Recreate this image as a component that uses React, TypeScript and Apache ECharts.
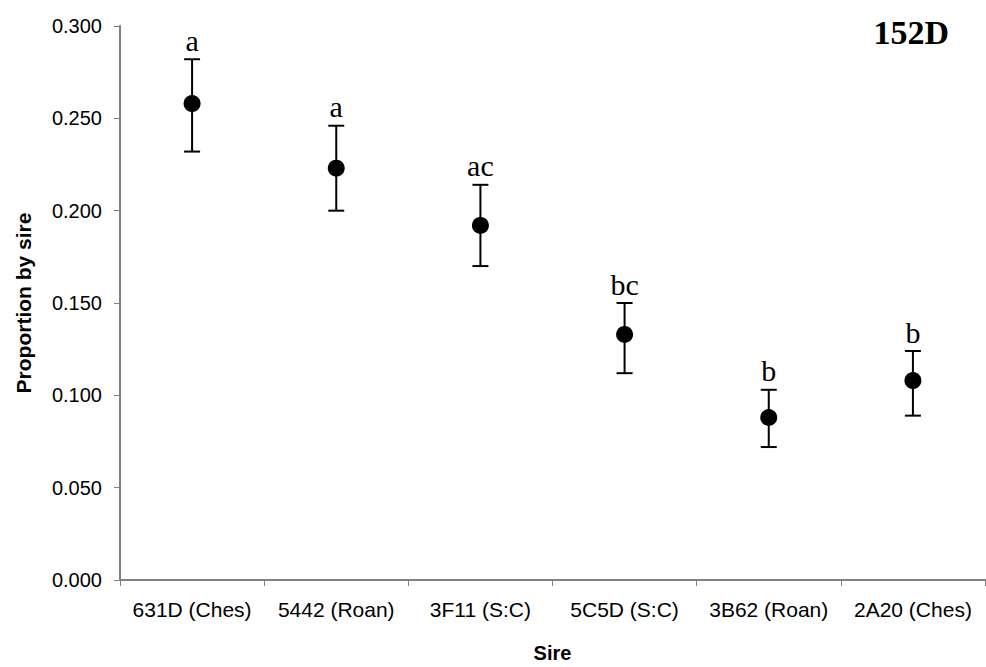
import React, { useEffect, useRef } from "react";
import * as echarts from "echarts";

const categories = ["631D (Ches)", "5442 (Roan)", "3F11 (S:C)", "5C5D (S:C)", "3B62 (Roan)", "2A20 (Ches)"];
const means = [0.258, 0.223, 0.192, 0.133, 0.088, 0.108];
const upper = [0.282, 0.246, 0.214, 0.150, 0.103, 0.124];
const lower = [0.232, 0.200, 0.170, 0.112, 0.072, 0.089];
const letters = ["a", "a", "ac", "bc", "b", "b"];
const yTicks = { min: 0, max: 0.3, interval: 0.05 };
const titleText = "152D";

export default function App() {
  const ref = useRef<HTMLDivElement>(null);
  useEffect(() => {
    if (!ref.current) return;
    const chart = echarts.init(ref.current, null, { renderer: "svg" });
    const errData = categories.map((_, i) => [i, lower[i], upper[i]]);
    chart.setOption({
      animation: false,
      backgroundColor: "#fff",
      title: {
        text: titleText,
        right: 32,
        top: 10,
        textStyle: { fontFamily: "Liberation Serif", fontWeight: "bold", fontSize: 34, color: "#000" },
      },
      grid: { left: 120, right: 1, top: 26, bottom: 87, containLabel: false, outerBoundsMode: "none" },
      xAxis: {
        type: "category",
        data: categories,
        boundaryGap: true,
        name: "Sire",
        nameLocation: "middle",
        nameGap: 63,
        nameTextStyle: { fontFamily: "Liberation Sans", fontWeight: "bold", fontSize: 20, color: "#000" },
        axisLine: { lineStyle: { color: "#808080", width: 2 } },
        axisTick: { show: true, length: 6, lineStyle: { color: "#808080", width: 1 } },
        axisLabel: { fontFamily: "Liberation Sans", fontSize: 21, color: "#000", margin: 19, interval: 0 },
        splitLine: { show: false },
      },
      yAxis: {
        type: "value",
        min: yTicks.min,
        max: yTicks.max,
        interval: yTicks.interval,
        name: "Proportion by sire",
        nameLocation: "middle",
        nameRotate: 90,
        nameGap: 86,
        nameTextStyle: { fontFamily: "Liberation Sans", fontWeight: "bold", fontSize: 21, color: "#000" },
        axisLine: { show: true, lineStyle: { color: "#808080", width: 2 } },
        axisTick: { show: true, length: 6, lineStyle: { color: "#808080", width: 1 } },
        axisLabel: {
          fontFamily: "Liberation Sans",
          fontSize: 20,
          color: "#000",
          margin: 18,
          formatter: (v: number) => v.toFixed(3),
        },
        splitLine: { show: false },
      },
      series: [
        {
          type: "custom",
          data: errData,
          z: 2,
          renderItem: (params: any, api: any) => {
            const hi = api.coord([api.value(0), api.value(2)]);
            const lo = api.coord([api.value(0), api.value(1)]);
            const half = 8;
            const st = { stroke: "#000", lineWidth: 2 };
            return {
              type: "group",
              children: [
                { type: "line", shape: { x1: hi[0], y1: hi[1], x2: lo[0], y2: lo[1] }, style: st },
                { type: "line", shape: { x1: hi[0] - half, y1: hi[1], x2: hi[0] + half, y2: hi[1] }, style: st },
                { type: "line", shape: { x1: lo[0] - half, y1: lo[1], x2: lo[0] + half, y2: lo[1] }, style: st },
                {
                  type: "text",
                  style: {
                    text: letters[params.dataIndex],
                    x: hi[0],
                    y: hi[1] - 4,
                    align: "center",
                    verticalAlign: "bottom",
                    fontFamily: "Liberation Serif",
                    fontSize: 30,
                    fill: "#000",
                  },
                },
              ],
            };
          },
        },
        {
          type: "scatter",
          data: means,
          symbol: "circle",
          symbolSize: 17,
          z: 3,
          itemStyle: { color: "#000", opacity: 1 },
        },
      ],
    });
    return () => chart.dispose();
  }, []);
  return <div ref={ref} style={{ position: "absolute", left: 0, top: 0, width: 986, height: 667 }} />;
}
